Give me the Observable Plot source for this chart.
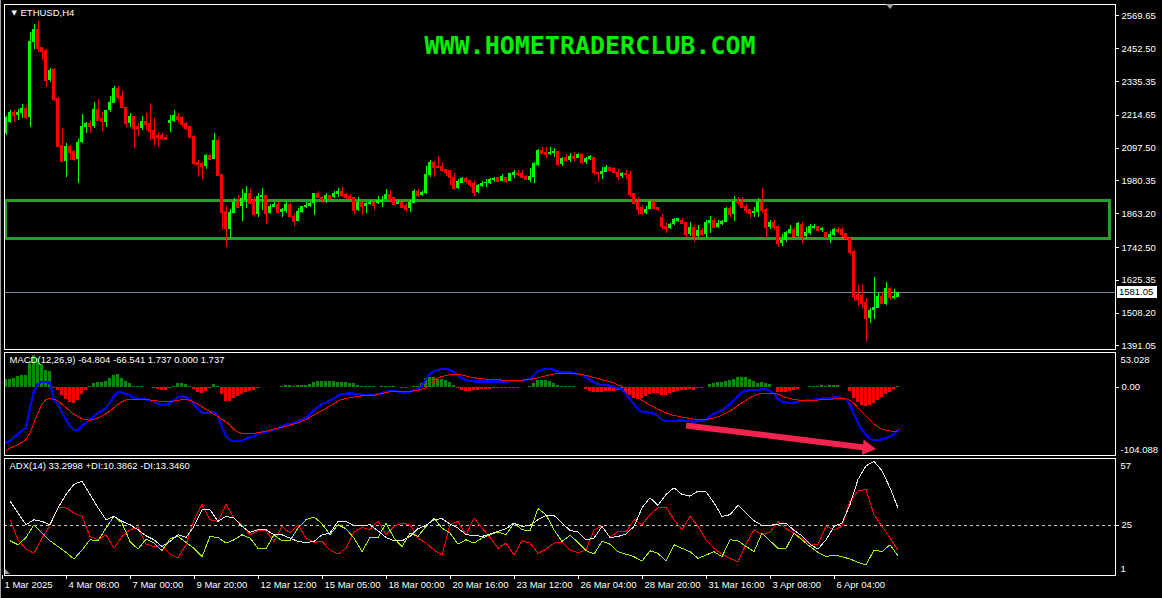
<!DOCTYPE html>
<html><head><meta charset="utf-8">
<script src="https://cdn.jsdelivr.net/npm/d3@7"></script>
<script src="https://cdn.jsdelivr.net/npm/@observablehq/plot@0.6"></script>
<style>
html,body{margin:0;padding:0;background:#000;}
#wrap{position:relative;width:1162px;height:598px;background:#000;overflow:hidden;font-family:"Liberation Sans",Arial,sans-serif;}
#wrap .pane{position:absolute;left:0;}
#wrap svg{display:block;shape-rendering:crispEdges;}
#wrap svg text{shape-rendering:auto;}
.deco{position:absolute;}
</style></head><body><div id="wrap"></div>
<script>
// ---------- DATA ----------
const symbolLabel = "ETHUSD,H4";
const watermark = "WWW.HOMETRADERCLUB.COM";
const open = [2150,2189,2225,2214,2221,2239,2207,2475,2521,2457,
2446,2339,2379,2275,2107,2050,2104,2086,2057,2118,
2171,2186,2175,2236,2204,2189,2232,2257,2311,2282,
2243,2186,2211,2175,2168,2193,2186,2161,2143,2143,
2136,2186,2193,2211,2207,2186,2175,2139,2047,2043,
2032,2072,2057,2125,2004,1870,1807,1863,1905,1889,
1911,1935,1911,1861,1920,1928,1863,1887,1897,1869,
1873,1897,1854,1837,1869,1887,1889,1899,1937,1923,
1913,1929,1923,1932,1944,1932,1926,1920,1875,1905,
1889,1897,1905,1899,1905,1913,1932,1920,1897,1905,
1893,1881,1901,1944,1929,1935,2000,2048,2032,2032,
2022,2018,1994,1952,1972,1990,1982,1972,1940,1960,
1970,1970,1982,1994,1978,1992,1978,2000,2008,2008,
1998,1982,1992,2036,2089,2083,2074,2077,2086,2039,
2063,2053,2069,2059,2074,2047,2056,2065,2012,2003,
2012,2027,2024,2012,1998,2006,2003,1934,1905,1884,
1863,1877,1907,1884,1851,1818,1809,1824,1837,1841,
1831,1789,1815,1783,1803,1789,1827,1839,1815,1825,
1833,1883,1861,1907,1905,1889,1878,1863,1867,1902,
1878,1815,1831,1818,1756,1768,1794,1807,1783,1825,
1783,1792,1810,1818,1803,1798,1780,1786,1807,1806,
1794,1774,1730,1575,1571,1548,1490,1518,1526,1569,
1539,1598,1562,1565];
const high = [2211,2232,2232,2237,2254,2245,2511,2539,2550,2458,
2450,2382,2382,2278,2168,2114,2107,2090,2129,2218,
2190,2193,2261,2272,2225,2232,2283,2318,2318,2304,
2243,2222,2211,2186,2211,2221,2257,2204,2154,2150,
2143,2214,2232,2221,2211,2190,2175,2143,2054,2047,
2075,2075,2150,2132,2004,1889,1879,1917,1929,1950,
1961,1949,1923,1935,1952,1928,1897,1905,1905,1881,
1905,1901,1863,1881,1889,1905,1905,1937,1944,1925,
1935,1929,1944,1952,1956,1935,1932,1920,1920,1905,
1905,1911,1905,1925,1925,1950,1946,1920,1911,1905,
1899,1911,1949,1949,1944,2032,2054,2050,2068,2042,
2022,2018,2008,1984,1994,1994,1982,1978,1967,1978,
1984,1988,1994,1994,2004,1992,2008,2018,2018,2018,
2000,2024,2048,2092,2099,2099,2099,2095,2086,2063,
2074,2077,2081,2077,2077,2065,2071,2065,2012,2030,
2036,2030,2030,2020,2012,2018,2014,1934,1920,1893,
1889,1907,1907,1884,1861,1830,1830,1845,1848,1847,
1831,1831,1821,1821,1809,1839,1854,1845,1839,1839,
1887,1889,1925,1923,1920,1896,1878,1887,1917,1952,
1883,1839,1839,1818,1789,1801,1821,1813,1833,1831,
1815,1825,1825,1818,1815,1798,1801,1812,1815,1812,
1794,1780,1732,1607,1611,1560,1526,1637,1577,1581,
1619,1601,1593,1583];
const low = [2143,2186,2189,2196,2204,2200,2172,2450,2439,2411,
2315,2333,2265,2100,2046,1993,2054,2050,1972,2114,
2150,2150,2168,2193,2157,2172,2225,2257,2268,2243,
2172,2172,2097,2139,2161,2161,2125,2107,2100,2125,
2125,2154,2189,2189,2172,2161,2132,2036,1993,1986,
2022,2054,2057,1997,1804,1744,1774,1863,1887,1837,
1881,1899,1849,1849,1875,1825,1861,1885,1863,1851,
1863,1849,1819,1837,1863,1881,1885,1857,1917,1901,
1901,1913,1917,1923,1923,1913,1913,1861,1873,1857,
1865,1893,1875,1897,1885,1913,1905,1893,1897,1881,
1869,1869,1901,1923,1925,1932,1994,1994,2024,2012,
1996,1964,1946,1950,1970,1970,1958,1925,1935,1958,
1958,1968,1976,1974,1978,1972,1978,1988,1996,1988,
1982,1976,1970,2033,2075,2059,2071,2065,2033,2033,
2047,2047,2050,2059,2039,2041,2053,2000,1974,1986,
2009,2015,2006,1982,1988,1986,1920,1899,1857,1857,
1859,1877,1881,1873,1806,1794,1806,1821,1833,1824,
1780,1783,1762,1780,1783,1774,1792,1809,1809,1821,
1833,1851,1837,1893,1884,1863,1848,1851,1851,1863,
1774,1807,1804,1744,1748,1762,1789,1780,1780,1756,
1771,1786,1807,1800,1798,1774,1758,1783,1792,1777,
1768,1714,1551,1532,1524,1405,1470,1484,1524,1542,
1536,1553,1557,1563];
const close = [2207,2225,2214,2225,2239,2207,2479,2521,2454,2443,
2339,2375,2271,2104,2050,2104,2082,2057,2118,2175,
2186,2175,2236,2197,2193,2232,2261,2311,2279,2243,
2186,2211,2168,2168,2193,2182,2157,2132,2136,2132,
2129,2196,2215,2200,2182,2168,2136,2043,2039,2032,
2072,2057,2125,2000,1868,1810,1867,1905,1887,1917,
1935,1899,1861,1925,1928,1863,1889,1897,1868,1877,
1895,1854,1837,1873,1889,1894,1901,1937,1923,1915,
1929,1917,1937,1944,1929,1920,1917,1875,1905,1889,
1901,1905,1893,1911,1911,1932,1913,1897,1905,1887,
1877,1905,1944,1929,1941,2004,2048,2030,2027,2018,
2012,1992,1952,1978,1990,1978,1968,1940,1964,1972,
1976,1984,1988,1978,1996,1978,2006,2012,2004,1992,
1984,1996,2042,2089,2077,2074,2083,2086,2039,2059,
2053,2069,2059,2074,2047,2062,2068,2012,2006,2015,
2030,2018,2009,1998,2006,2002,1932,1899,1878,1863,
1877,1907,1883,1877,1818,1809,1825,1842,1845,1827,
1789,1813,1783,1803,1789,1831,1839,1813,1827,1837,
1883,1859,1907,1902,1884,1875,1865,1873,1902,1875,
1815,1831,1815,1756,1768,1798,1806,1783,1827,1783,
1798,1818,1818,1803,1812,1780,1789,1806,1801,1789,
1774,1726,1568,1556,1544,1490,1518,1530,1569,1542,
1598,1563,1569,1581.05];

const macdMain = [-85.1,-81.5,-76.4,-71.2,-66.1,-62.0,-31.2,-5.5,4.8,8.4,
7.3,7.3,-19.9,-26.0,-38.9,-49.2,-59.4,-65.6,-64.6,-59.4,
-54.3,-49.2,-44.0,-38.9,-36.3,-31.2,-23.5,-13.2,-6.5,-8.1,
-10.6,-12.2,-16.8,-17.3,-17.3,-18.3,-19.9,-21.9,-25.0,-27.1,
-27.1,-23.5,-19.9,-14.8,-13.7,-14.8,-18.3,-26.0,-33.8,-38.9,
-39.9,-38.9,-37.9,-44.0,-61.0,-74.8,-80.0,-82.5,-82.5,-81.5,
-78.4,-76.4,-74.8,-71.2,-68.2,-68.2,-66.1,-64.6,-63.0,-59.4,
-56.9,-55.8,-54.3,-51.7,-49.2,-46.6,-41.5,-35.3,-30.2,-26.0,
-23.5,-19.9,-16.8,-13.2,-10.6,-9.6,-9.6,-9.6,-10.6,-11.7,
-11.7,-11.7,-11.7,-10.6,-9.1,-6.5,-5.5,-5.5,-6.5,-8.1,
-8.1,-7.0,-4.5,-2.9,2.2,12.5,20.2,24.3,26.3,27.9,
27.9,26.3,22.7,17.6,13.5,10.9,9.4,8.9,8.9,8.9,
8.9,8.9,8.9,8.9,8.9,8.9,8.9,9.4,9.4,9.9,
10.9,13.0,19.1,24.3,26.8,27.9,27.9,26.3,24.3,22.7,
22.7,22.7,21.7,20.2,19.1,15.0,10.9,7.3,4.8,3.2,
3.2,2.2,0.6,-1.4,-2.9,-10.6,-18.3,-26.0,-33.8,-37.3,
-37.9,-38.9,-40.4,-44.0,-49.2,-51.7,-51.7,-51.7,-50.7,-50.7,
-51.7,-51.7,-52.8,-51.7,-51.7,-49.2,-44.0,-40.4,-37.9,-35.3,
-30.2,-26.0,-19.9,-13.2,-8.1,-5.5,-4.5,-4.5,-4.5,-2.9,
-2.9,-5.5,-9.6,-18.3,-21.9,-23.5,-23.5,-23.5,-22.5,-20.9,
-19.9,-19.4,-18.9,-18.3,-16.8,-16.8,-16.3,-15.8,-14.8,-16.8,
-18.3,-26.0,-41.5,-54.3,-64.6,-73.3,-78.4,-80.5,-80.5,-79.5,
-77.4,-75.3,-71.2,-64.804];
const macdSignal = [-96.9,-92.8,-90.2,-87.7,-83.6,-80.0,-69.7,-54.3,-38.9,-26.0,
-18.3,-17.3,-18.3,-20.9,-26.0,-31.2,-36.3,-41.5,-45.0,-48.1,
-49.7,-50.2,-49.2,-46.6,-44.0,-40.4,-36.3,-31.2,-26.0,-21.9,
-19.4,-18.3,-18.3,-18.3,-18.3,-18.3,-19.4,-19.9,-20.9,-21.9,
-22.5,-21.9,-20.9,-19.9,-18.9,-18.9,-19.9,-22.5,-26.0,-29.6,
-33.8,-37.3,-41.5,-45.0,-49.2,-52.8,-57.9,-64.6,-68.2,-70.2,
-70.7,-70.7,-70.2,-69.2,-68.2,-67.1,-65.6,-63.5,-62.0,-61.0,
-59.4,-57.9,-55.8,-54.3,-51.7,-49.2,-45.6,-42.5,-38.9,-35.3,
-32.2,-28.6,-25.0,-20.9,-18.3,-17.3,-15.8,-14.8,-13.7,-13.2,
-13.2,-12.2,-12.2,-10.6,-9.6,-8.1,-7.0,-6.5,-6.5,-6.5,
-6.5,-6.5,-5.5,-4.5,-2.9,-0.4,4.8,9.9,14.0,16.6,
17.6,19.1,20.2,20.2,18.6,17.1,15.5,14.5,13.5,13.0,
12.5,11.9,11.4,11.4,10.9,10.9,10.9,10.9,10.9,10.9,
11.4,11.9,13.0,14.5,16.0,17.6,19.1,20.2,21.2,21.7,
21.7,21.2,20.7,20.2,19.1,18.1,16.6,15.0,13.5,11.4,
9.9,8.4,6.3,3.7,1.2,-1.4,-5.5,-9.6,-14.8,-19.9,
-23.5,-27.1,-30.2,-33.8,-36.3,-38.9,-41.5,-43.0,-44.0,-45.6,
-46.6,-47.6,-48.6,-49.2,-49.2,-49.2,-48.1,-46.6,-45.0,-42.5,
-39.4,-36.3,-32.2,-27.6,-23.5,-19.9,-15.8,-13.2,-10.6,-9.6,
-9.1,-9.1,-9.6,-10.6,-13.2,-15.8,-17.3,-18.3,-19.4,-19.9,
-19.9,-19.9,-19.9,-19.4,-18.9,-18.3,-18.3,-17.8,-17.3,-16.8,
-17.3,-19.9,-25.0,-31.2,-37.3,-44.0,-50.2,-55.8,-60.5,-63.5,
-65.6,-66.6,-67.1,-66.541];

// ADX(14) read at every second bar (bars 1,3,5,...,223)
const adxLine = [36.6,30.9,25.3,27.7,26.9,25.3,33.4,39.8,44.6,46.2,
39.8,33.4,27.7,29.3,26.9,25.3,22.9,20.0,18.1,14.9,
17.3,20.5,19.2,24.5,32.5,32.5,26.9,29.3,28.5,24.5,
21.6,22.9,22.9,20.5,20.5,18.9,17.3,16.8,17.3,20.5,
21.3,26.9,26.9,25.0,24.8,25.3,22.4,19.2,17.6,17.6,
19.7,23.4,25.0,27.7,28.2,25.6,
23.7,20.5,20.2,19.7,20.8,22.1,23.4,26.1,24.5,25.0,
27.7,29.8,29.8,26.1,22.6,21.8,18.1,18.9,24.5,19.2,
19.7,20.8,24.5,33.4,38.2,34.6,39.8,43.0,39.8,39.0,
41.4,41.1,35.8,29.3,30.1,34.6,30.9,27.2,25.0,25.0,
25.6,26.1,22.6,20.0,16.0,13.6,18.1,24.5,26.1,35.0,
47.0,53.5,55.6,51.1,43.0,33.3];
const diMinus = [27.7,18.1,13.7,11.6,18.9,25.0,33.4,33.4,30.9,29.3,
19.7,18.1,20.5,14.0,19.7,22.9,24.0,16.0,14.9,15.3,
11.2,9.5,15.7,27.7,35.0,27.7,26.9,35.0,28.5,25.0,
20.5,22.4,22.4,17.3,24.5,21.3,25.3,18.9,16.9,17.3,
13.2,11.2,14.0,21.8,24.0,22.9,27.2,20.5,24.5,26.1,
25.3,18.9,16.5,13.2,10.8,25.3,
26.9,20.5,28.5,23.7,19.2,14.0,16.5,10.8,17.6,16.5,
11.6,13.6,16.5,16.9,13.2,11.9,13.2,22.9,24.5,19.2,
22.1,21.8,27.7,25.3,30.1,33.4,33.7,27.7,22.9,29.3,
24.5,18.1,14.0,11.2,9.2,7.6,16.0,22.9,20.5,21.8,
26.9,23.4,21.3,18.6,16.0,16.0,24.5,22.9,24.5,36.6,
41.4,42.2,30.1,24.5,18.9,13.3];
const diPlus = [17.6,15.7,19.2,25.3,21.3,17.6,14.9,12.1,8.9,13.2,
18.1,17.6,23.7,29.3,26.1,17.3,13.6,18.4,16.5,12.9,
18.6,19.7,16.9,14.0,10.0,19.7,19.2,16.5,18.1,20.5,
18.9,14.0,13.7,20.5,17.6,17.7,23.7,27.7,29.0,25.8,
20.5,25.3,23.4,18.9,12.4,19.2,19.2,26.1,18.9,14.9,
21.3,19.7,24.5,28.5,23.7,21.3,
16.0,18.1,16.5,18.9,20.5,21.8,20.5,26.1,22.9,22.4,
33.0,30.1,22.9,17.3,20.2,16.9,12.9,11.3,17.3,16.0,
12.4,11.2,10.0,7.9,12.8,11.6,7.9,15.7,14.0,12.4,
9.2,10.8,12.4,10.0,18.1,17.6,14.9,12.4,21.3,17.6,
14.0,14.0,21.3,18.1,14.9,12.1,10.0,10.8,10.0,8.9,
7.3,6.0,13.2,12.4,15.7,10.4];

const priceTicks = [2569.65,2452.50,2335.35,2214.65,2097.50,1980.35,1863.20,1742.50,1625.35,1508.20,1391.05];
const macdRange = [-104.088, 53.028];
const adxRange = [1, 57];
const adxLevel = 25;
const timeTickBars = [-1,15,31,47,63,79,95,111,127,143,159,175,191,207];
const timeTickLabels = ["1 Mar 2025","4 Mar 08:00","7 Mar 00:00","9 Mar 20:00","12 Mar 12:00","15 Mar 05:00","18 Mar 00:00","20 Mar 16:00","23 Mar 12:00","26 Mar 04:00","28 Mar 20:00","31 Mar 16:00","3 Apr 08:00","6 Apr 04:00"];
const zone = [{from: 0, to: 276, low: 1771.5, high: 1909.5}];
// divergence arrow drawn on the MACD pane: shaft start/end and head (bar index, MACD value)
const arrowShaft = [{x1: 170, y1: -58.3, x2: 215.6, y2: -92.6}];
const arrowHead = [{x: 215.3, y: -92.4}];
const macdLabel = "MACD(12,26,9) -64.804 -66.541 1.737 0.000 1.737";
const adxLabel = "ADX(14) 33.2998 +DI:10.3862 -DI:13.3460";

// ---------- BUILD ----------
const bull = "#00ff00", bear = "#ff0000";
const bars = close.map((c, i) => ({i, o: open[i], h: high[i], l: low[i], c, up: c >= open[i]}));
const macdRows = macdMain.map((m, i) => ({i, m, s: macdSignal[i], hist: m - macdSignal[i]}));
const adxRows = adxLine.map((a, k) => ({i: 2 * k + 1, adx: a, pdi: diPlus[k], mdi: diMinus[k]}));
const lastClose = close[close.length - 1];
const labelMap = new Map(timeTickBars.map((b, k) => [b, timeTickLabels[k]]));

const FONT = "'Liberation Sans', Arial, sans-serif";
const X = {domain: [-0.375, 277.375], axis: null};
const style = {background: "transparent", color: "#fff", fontFamily: FONT, fontSize: "9.5px", overflow: "visible"};
const W = 1162, ML = 4, MR = 47;

const wrap = document.getElementById("wrap");
function place(svg, top) {
  const d = document.createElement("div");
  d.className = "pane"; d.style.top = top + "px";
  d.appendChild(svg); wrap.appendChild(d);
}

// Main price pane
const mainPlot = Plot.plot({
  width: W, height: 351, marginLeft: ML, marginRight: MR, marginTop: 4, marginBottom: 2,
  x: X, y: {domain: [1378.5, 2610.7], axis: null}, style,
  marks: [
    Plot.rect(zone, {x1: "from", x2: "to", y1: "low", y2: "high", fill: "none", stroke: "#2a9d2a", strokeWidth: 3}),
    Plot.ruleY([lastClose], {stroke: "#778899"}),
    Plot.ruleX(bars, {x: "i", y1: "l", y2: "h", stroke: d => d.up ? bull : bear}),
    Plot.rect(bars, {x1: d => d.i - 0.375, x2: d => d.i + 0.375, y1: "o", y2: "c", fill: d => d.up ? bull : bear}),
    Plot.ruleY(bars, {y: "c", x1: d => d.i - 0.375, x2: d => d.i + 0.375, stroke: d => d.up ? bull : bear}),
    Plot.frame({stroke: "#fff"}),
    Plot.axisY({anchor: "right", label: null, ticks: priceTicks, tickSize: 3, tickPadding: 3, tickFormat: d => d.toFixed(2), fill: "#fff", stroke: "#fff"}),
    Plot.text([watermark], {text: d => d, frameAnchor: "top", dx: 30, dy: 41, lineAnchor: "middle", fill: "#00f000", fontSize: 25, fontWeight: "bold", fontFamily: "'DejaVu Sans Mono', monospace"}),
    Plot.text(["▼"], {text: d => d, frameAnchor: "top-left", dx: 7, dy: 8, lineAnchor: "middle", fill: "#fff", fontSize: 7, fontFamily: "'DejaVu Sans'"}),
    Plot.text([symbolLabel], {text: d => d, frameAnchor: "top-left", dx: 16, dy: 8, lineAnchor: "middle", textAnchor: "start", fill: "#fff"})
  ]
});
place(mainPlot, 0);

// Current price box from the y scale
const yPx = mainPlot.scale("y").apply(lastClose);
const box = document.createElement("div");
box.className = "deco";
box.textContent = lastClose.toFixed(2);
Object.assign(box.style, {left: "1117px", top: (yPx - 6.5) + "px", width: "40px", height: "12px", lineHeight: "12px", background: "#fff", color: "#000", fontSize: "9.5px", fontFamily: FONT, paddingLeft: "2px", boxSizing: "border-box"});
wrap.appendChild(box);

// MACD pane
const macdPlot = Plot.plot({
  width: W, height: 105, marginLeft: ML, marginRight: MR, marginTop: 1, marginBottom: 1,
  x: X, y: {domain: macdRange, axis: null}, style,
  marks: [
    Plot.rect(macdRows, {x1: d => d.i - 0.375, x2: d => d.i + 0.375, y1: 0, y2: "hist", fill: d => d.hist >= 0 ? "#0a8a0a" : "#ff0000"}),
    Plot.line(macdRows, {x: "i", y: "m", stroke: "#0000ff", strokeWidth: 2.2}),
    Plot.line(macdRows, {x: "i", y: "s", stroke: "#ff0000", strokeWidth: 1}),
    Plot.link(arrowShaft, {x1: "x1", y1: "y1", x2: "x2", y2: "y2", stroke: "#f2244f", strokeWidth: 6, shapeRendering: "geometricPrecision"}),
    Plot.dot(arrowHead, {x: "x", y: "y", symbol: "triangle", r: 5.8, fill: "#f2244f", rotate: 97, shapeRendering: "geometricPrecision"}),
    Plot.frame({stroke: "#fff"}),
    Plot.axisY({anchor: "right", label: null, ticks: [0], tickSize: 3, tickPadding: 3, tickFormat: () => "0.00", fill: "#fff", stroke: "#fff"}),
    Plot.text([macdRange[1]], {y: d => d, text: d => d.toFixed(3), frameAnchor: "right", dx: 5, dy: 7, textAnchor: "start", fill: "#fff"}),
    Plot.text([macdRange[0]], {y: d => d, text: d => d.toFixed(3), frameAnchor: "right", dx: 5, dy: -6, textAnchor: "start", fill: "#fff"}),
    Plot.text([macdLabel], {text: d => d, frameAnchor: "top-left", dx: 5, dy: 7, lineAnchor: "middle", textAnchor: "start", fill: "#fff"})
  ]
});
place(macdPlot, 351);

// ADX pane with time axis
const adxPlot = Plot.plot({
  width: W, height: 142, marginLeft: ML, marginRight: MR, marginTop: 2, marginBottom: 23,
  x: X, y: {domain: adxRange, axis: null}, style,
  marks: [
    Plot.ruleY([adxLevel], {stroke: "#c8c8c8", strokeDasharray: "3,3"}),
    Plot.line(adxRows, {x: "i", y: "mdi", stroke: "#ff0000", strokeWidth: 1}),
    Plot.line(adxRows, {x: "i", y: "pdi", stroke: "#9ef01a", strokeWidth: 1}),
    Plot.line(adxRows, {x: "i", y: "adx", stroke: "#e8e8e8", strokeWidth: 1}),
    Plot.frame({stroke: "#fff"}),
    Plot.axisY({anchor: "right", label: null, ticks: [adxLevel], tickSize: 3, tickPadding: 3, tickFormat: d => String(d), fill: "#fff", stroke: "#fff"}),
    Plot.text([adxRange[1]], {y: d => d, text: d => String(d), frameAnchor: "right", dx: 5, dy: 7, textAnchor: "start", fill: "#fff"}),
    Plot.text([adxRange[0]], {y: d => d, text: d => String(d), frameAnchor: "right", dx: 5, dy: -7, textAnchor: "start", fill: "#fff"}),
    Plot.text([adxLabel], {text: d => d, frameAnchor: "top-left", dx: 5, dy: 7, lineAnchor: "middle", textAnchor: "start", fill: "#fff"}),
    Plot.axisX({anchor: "bottom", label: null, ticks: timeTickBars, tickSize: 4, tickFormat: () => "", stroke: "#fff"}),
    Plot.text(timeTickBars, {x: d => d, text: d => labelMap.get(d), frameAnchor: "bottom", dy: 9, dx: 2.5, lineAnchor: "middle", textAnchor: "start", fill: "#fff"})
  ]
});
place(adxPlot, 456);

// window chrome: left border and small shift markers
const lb = document.createElement("div"); lb.className = "deco";
Object.assign(lb.style, {left: "0px", top: "0px", width: "1px", height: "598px", background: "#a0a0a0"});
wrap.appendChild(lb);
const tri = document.createElement("div"); tri.className = "deco";
Object.assign(tri.style, {left: "886px", top: "4px", width: "0", height: "0", borderLeft: "4px solid transparent", borderRight: "4px solid transparent", borderTop: "5px solid #a0a0a0"});
wrap.appendChild(tri);
const tri2 = document.createElement("div"); tri2.className = "deco";
Object.assign(tri2.style, {left: "5px", top: "569px", width: "0", height: "0", borderRight: "5px solid transparent", borderBottom: "5px solid #a0a0a0"});
wrap.appendChild(tri2);
</script></body></html>
